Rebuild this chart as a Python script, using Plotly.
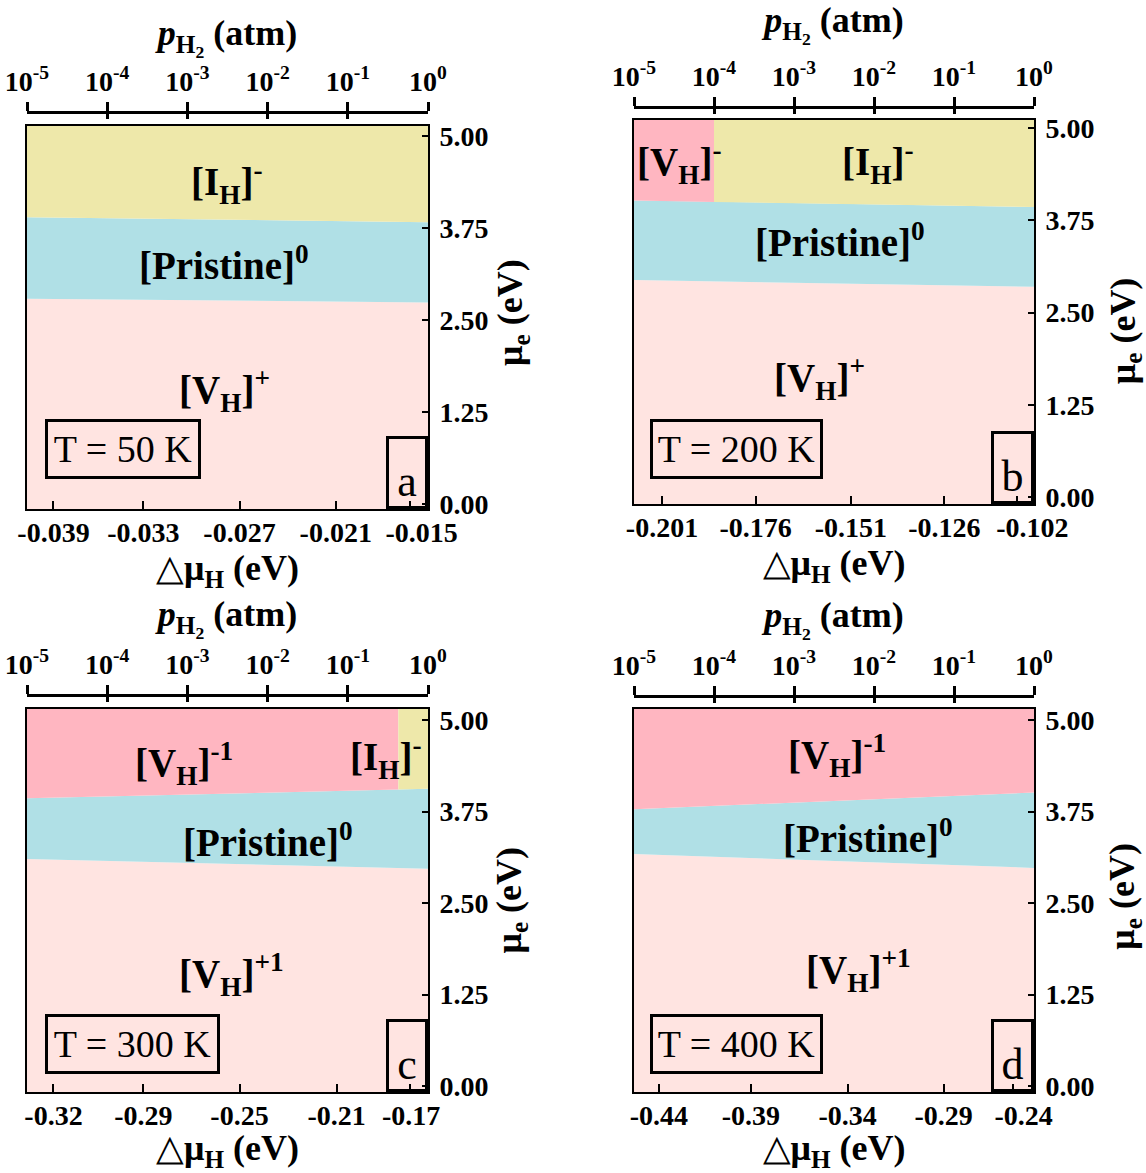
import plotly.graph_objects as go

# ---------------- data ----------------
panel_letters = ["a", "b", "c", "d"]
temperatures = [50, 200, 300, 400]

# top axis: log10(p_H2 / atm)
logp_ticks = [-5, -4, -3, -2, -1, 0]
logp_tick_text = ["10<sup>-5</sup>", "10<sup>-4</sup>", "10<sup>-3</sup>",
                  "10<sup>-2</sup>", "10<sup>-1</sup>", "10<sup>0</sup>"]

# bottom axis: delta mu_H tick positions (in log10 p), label centres and labels
dmu_pos_a = [-4.67, -3.55, -2.35, -1.15, -0.23]
dmu_lpos_a = [-4.67, -3.55, -2.35, -1.15, -0.08]
dmu_lab_a = ["-0.039", "-0.033", "-0.027", "-0.021", "-0.015"]
dmu_pos_b = [-4.65, -3.48, -2.29, -1.12, -0.21]
dmu_lpos_b = [-4.65, -3.48, -2.29, -1.12, -0.02]
dmu_lab_b = ["-0.201", "-0.176", "-0.151", "-0.126", "-0.102"]
dmu_pos_c = [-4.67, -3.55, -2.35, -1.14, -0.23]
dmu_lpos_c = [-4.67, -3.55, -2.35, -1.14, -0.21]
dmu_lab_c = ["-0.32", "-0.29", "-0.25", "-0.21", "-0.17"]
dmu_pos_d = [-4.69, -3.54, -2.33, -1.13, -0.26]
dmu_lpos_d = [-4.69, -3.54, -2.33, -1.13, -0.13]
dmu_lab_d = ["-0.44", "-0.39", "-0.34", "-0.29", "-0.24"]

# right axis: electron chemical potential
mu_ticks = [0, 1.25, 2.5, 3.75, 5.0]
mu_tick_text = ["0.00", "1.25", "2.50", "3.75", "5.00"]
mu_range_a = [-0.07, 5.14]
mu_range_b = [-0.095, 5.11]
mu_range_c = [-0.08, 5.15]
mu_range_d = [-0.08, 5.15]

# phase boundaries (log10 p, mu_e)
upper_x_a = [-5, 0];        upper_y_a = [3.90, 3.83]
lower_x_a = [-5, 0];        lower_y_a = [2.79, 2.74]
upper_x_b = [-5, -4.0, 0];  upper_y_b = [4.02, 4.00, 3.93]
lower_x_b = [-5, 0];        lower_y_b = [2.94, 2.85]
upper_x_c = [-5, -0.37, 0]; upper_y_c = [3.93, 4.05, 4.06]
lower_x_c = [-5, 0];        lower_y_c = [3.10, 2.97]
upper_x_d = [-5, 0];        upper_y_d = [3.78, 4.01]
lower_x_d = [-5, 0];        lower_y_d = [3.17, 2.98]

split_a = None; split_b = -4.0; split_c = -0.37; split_d = None

# top-region colours (left, right of split)
top_cols_a = ["#EEE8AA", None]
top_cols_b = ["#FFB6C1", "#EEE8AA"]
top_cols_c = ["#FFB6C1", "#EEE8AA"]
top_cols_d = ["#FFB6C1", None]
col_pristine = "#B0E0E6"
col_vh_plus = "#FFE4E1"

# region labels: (text, logp, mu)
labels_a = [("[I<sub>H</sub>]<sup>-</sup>", -2.51, 4.37),
            ("[Pristine]<sup>0</sup>", -2.54, 3.27),
            ("[V<sub>H</sub>]<sup>+</sup>", -2.54, 1.54)]
labels_b = [("[V<sub>H</sub>]<sup>-</sup>", -4.44, 4.53),
            ("[I<sub>H</sub>]<sup>-</sup>", -1.95, 4.53),
            ("[Pristine]<sup>0</sup>", -2.42, 3.48),
            ("[V<sub>H</sub>]<sup>+</sup>", -2.68, 1.61)]
labels_c = [("[V<sub>H</sub>]<sup>-1</sup>", -3.04, 4.41),
            ("[I<sub>H</sub>]<sup>-</sup>", -0.52, 4.49),
            ("[Pristine]<sup>0</sup>", -2.0, 3.36),
            ("[V<sub>H</sub>]<sup>+1</sup>", -2.45, 1.52)]
labels_d = [("[V<sub>H</sub>]<sup>-1</sup>", -2.46, 4.52),
            ("[Pristine]<sup>0</sup>", -2.07, 3.42),
            ("[V<sub>H</sub>]<sup>+1</sup>", -2.2, 1.58)]

# ---------------- layout geometry ----------------
W, H = 1146, 1173
x_domains = [[27 / W, 428 / W], [634 / W, 1034 / W], [27 / W, 428 / W], [634 / W, 1034 / W]]
y_domains = [[1 - 509 / H, 1 - 126 / H], [1 - 504 / H, 1 - 120 / H],
             [1 - 1092 / H, 1 - 709 / H], [1 - 1092 / H, 1 - 709 / H]]
top_axis_pos = [1 - 112 / H, 1 - 107 / H, 1 - 695 / H, 1 - 696 / H]
top_title_standoff = [4, 14, 6, 6]
right_title_pos = [(85, 0.512), (91, 0.45), (83, 0.50), (91, 0.51)]  # (x shift px, y in domain)
tbox_pos = [(0.045, 0.078), (0.04, 0.065), (0.045, 0.047), (0.04, 0.047)]
tbox_w = [150, 167, 169, 167]
lbox_w = [36, 37, 36, 37]

FONT = "Liberation Serif"

panels = [
    dict(dpos=dmu_pos_a, dlpos=dmu_lpos_a, dlab=dmu_lab_a, rng=mu_range_a, ux=upper_x_a,
         uy=upper_y_a, lx=lower_x_a, ly=lower_y_a, split=split_a, tc=top_cols_a, labels=labels_a),
    dict(dpos=dmu_pos_b, dlpos=dmu_lpos_b, dlab=dmu_lab_b, rng=mu_range_b, ux=upper_x_b,
         uy=upper_y_b, lx=lower_x_b, ly=lower_y_b, split=split_b, tc=top_cols_b, labels=labels_b),
    dict(dpos=dmu_pos_c, dlpos=dmu_lpos_c, dlab=dmu_lab_c, rng=mu_range_c, ux=upper_x_c,
         uy=upper_y_c, lx=lower_x_c, ly=lower_y_c, split=split_c, tc=top_cols_c, labels=labels_c),
    dict(dpos=dmu_pos_d, dlpos=dmu_lpos_d, dlab=dmu_lab_d, rng=mu_range_d, ux=upper_x_d,
         uy=upper_y_d, lx=lower_x_d, ly=lower_y_d, split=split_d, tc=top_cols_d, labels=labels_d),
]

fig = go.Figure()
annotations = []
layout = dict(width=W, height=H, margin=dict(l=0, r=0, t=0, b=0, autoexpand=False),
              paper_bgcolor="white", plot_bgcolor="white", showlegend=False)

tick_font = dict(family=FONT, size=28, color="black", weight="bold")
title_font = dict(family=FONT, size=36, color="black", weight="bold")


def poly(xs, ys, color, xa, ya):
    fig.add_trace(go.Scatter(x=xs, y=ys, fill="toself", fillcolor=color, mode="lines",
                             line=dict(width=0, color=color), hoverinfo="skip",
                             xaxis=xa, yaxis=ya))


for i, p in enumerate(panels):
    n = i + 1
    sfx = "" if n == 1 else str(n)
    xa, ya = f"x{sfx}", f"y{sfx}"
    xmin, xmax = logp_ticks[0], logp_ticks[-1]
    ymin, ymax = p["rng"]
    # V_H+ region (bottom)
    poly(p["lx"] + [xmax, xmin], p["ly"] + [ymin, ymin], col_vh_plus, xa, ya)
    # pristine region
    poly(p["lx"] + p["ux"][::-1], p["ly"] + p["uy"][::-1], col_pristine, xa, ya)
    # top region(s)
    if p["split"] is None:
        poly(p["ux"] + [xmax, xmin], p["uy"] + [ymax, ymax], p["tc"][0], xa, ya)
    else:
        s = p["split"]
        lx = [x for x in p["ux"] if x <= s]
        ly = [y for x, y in zip(p["ux"], p["uy"]) if x <= s]
        rx = [x for x in p["ux"] if x >= s]
        ry = [y for x, y in zip(p["ux"], p["uy"]) if x >= s]
        poly(lx + [s, xmin], ly + [ymax, ymax], p["tc"][0], xa, ya)
        poly(rx + [xmax, s], ry + [ymax, ymax], p["tc"][1], xa, ya)
    # invisible traces to bind the extra axes
    for k in (4 + n, 8 + n, 12 + n):
        fig.add_trace(go.Scatter(x=[xmin, xmax], y=[ymin, ymin], mode="markers",
                                 marker=dict(opacity=0), hoverinfo="skip",
                                 xaxis=f"x{k}", yaxis=ya))

    # main bottom axis: frame + inside tick marks
    layout[f"xaxis{sfx}"] = dict(
        domain=x_domains[i], anchor=ya, range=[xmin, xmax], automargin=False,
        showgrid=False, zeroline=False, showline=True, linecolor="black", linewidth=2,
        mirror=True, ticks="inside", ticklen=8, tickwidth=2, tickcolor="black",
        tickvals=p["dpos"], showticklabels=False,
    )
    # bottom label axis: delta mu_H labels + title
    layout[f"xaxis{12 + n}"] = dict(
        overlaying=xa, anchor=ya, side="bottom", range=[xmin, xmax], automargin=False,
        showgrid=False, zeroline=False, showline=False, ticks="",
        tickvals=p["dlpos"], ticktext=p["dlab"], tickfont=tick_font, ticklabelstandoff=4,
        title=dict(text="△<b>μ<sub>H</sub> (eV)</b>", standoff=1,
                   font=dict(family=FONT, size=36, color="black")),
    )
    layout[f"yaxis{sfx}"] = dict(
        domain=y_domains[i], anchor=xa, side="right", range=[ymin, ymax], automargin=False,
        showgrid=False, zeroline=False, showline=True, linecolor="black", linewidth=2,
        mirror=True, ticks="inside", ticklen=6, tickwidth=2, tickcolor="black",
        tickvals=mu_ticks, ticktext=mu_tick_text, tickfont=tick_font, ticklabelstandoff=4,
    )
    layout[f"xaxis{4 + n}"] = dict(
        overlaying=xa, anchor="free", position=top_axis_pos[i], side="top",
        range=[xmin, xmax], showgrid=False, zeroline=False, showline=True, automargin=False,
        linecolor="black", linewidth=3, ticks="outside", ticklen=9, tickwidth=3,
        tickcolor="black", tickvals=logp_ticks, ticktext=logp_tick_text,
        tickfont=tick_font, ticklabelstandoff=0,
        title=dict(text="<i>p</i><sub>H<sub>2</sub></sub> (atm)",
                   standoff=top_title_standoff[i], font=title_font),
    )
    layout[f"xaxis{8 + n}"] = dict(
        overlaying=xa, anchor="free", position=top_axis_pos[i], side="top",
        range=[xmin, xmax], showgrid=False, zeroline=False, showline=False, automargin=False,
        ticks="inside", ticklen=6, tickwidth=3, tickcolor="black",
        tickvals=logp_ticks, showticklabels=False,
    )

    # right axis title
    rsh, ry_ = right_title_pos[i]
    annotations.append(dict(text="μ<sub>e</sub> (eV)", x=1, y=ry_, xshift=rsh,
                            xref=f"{xa} domain", yref=f"{ya} domain", textangle=-90,
                            xanchor="center", yanchor="middle", showarrow=False,
                            font=title_font))

    for text, lx_, ly_ in p["labels"]:
        annotations.append(dict(text=text, x=lx_, y=ly_, xref=xa, yref=ya, showarrow=False,
                                font=dict(family=FONT, size=39, color="black", weight="bold")))
    tx, ty = tbox_pos[i]
    annotations.append(dict(text=f"T = {temperatures[i]} K", x=tx, y=ty,
                            xref=f"{xa} domain", yref=f"{ya} domain", xanchor="left",
                            yanchor="bottom", showarrow=False, bordercolor="black",
                            borderwidth=3, borderpad=0, width=tbox_w[i], height=54,
                            font=dict(family=FONT, size=38, color="black")))
    annotations.append(dict(text=panel_letters[i], x=1, y=0,
                            xref=f"{xa} domain", yref=f"{ya} domain", xanchor="right",
                            yanchor="bottom", showarrow=False, bordercolor="black",
                            borderwidth=3, borderpad=0, width=lbox_w[i], height=67,
                            valign="bottom",
                            font=dict(family=FONT, size=44, color="black")))

layout["annotations"] = annotations
fig.update_layout(**layout)
fig.write_html("out.html")
